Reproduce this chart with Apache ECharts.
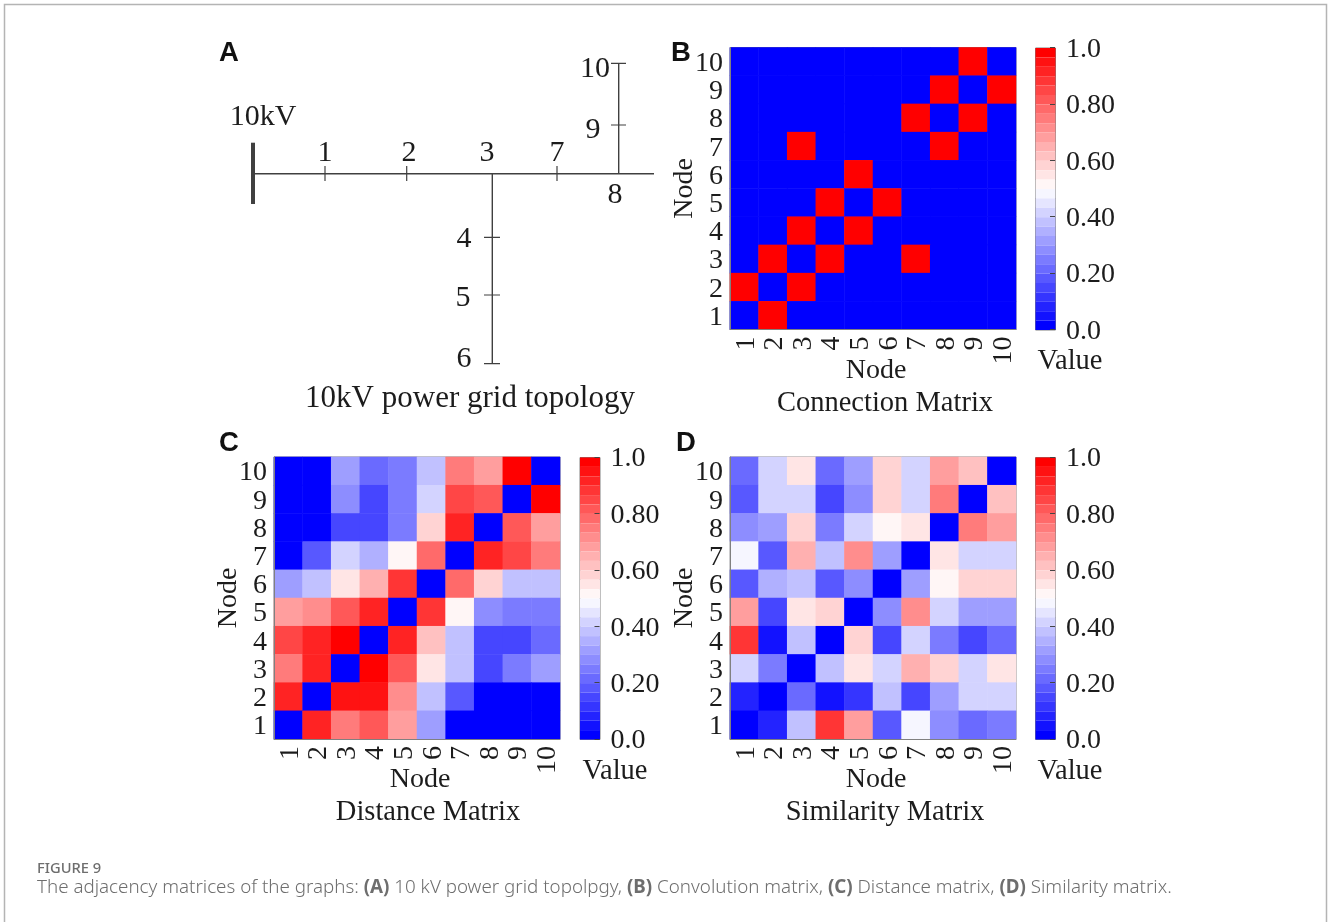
<!DOCTYPE html>
<html><head><meta charset="utf-8">
<style>html,body{margin:0;padding:0;background:#fff}#c{width:1328px;height:922px}</style>
<script src="https://cdn.jsdelivr.net/npm/echarts@6/dist/echarts.min.js"></script>
</head><body><div id="c"></div>
<script>
const nodes = ['1','2','3','4','5','6','7','8','9','10'];
const colorbarTicks = {'0.0':'0.0','0.2':'0.20','0.4':'0.40','0.6':'0.60','0.8':'0.80','1.0':'1.0'};

// rows listed top to bottom: node 10 first, node 1 last
const connectionMatrix = [
 [0,0,0,0,0,0,0,0,1,0],
 [0,0,0,0,0,0,0,1,0,1],
 [0,0,0,0,0,0,1,0,1,0],
 [0,0,1,0,0,0,0,1,0,0],
 [0,0,0,0,1,0,0,0,0,0],
 [0,0,0,1,0,1,0,0,0,0],
 [0,0,1,0,1,0,0,0,0,0],
 [0,1,0,1,0,0,1,0,0,0],
 [1,0,1,0,0,0,0,0,0,0],
 [0,1,0,0,0,0,0,0,0,0]
];
const distanceMatrix = [
 [0,0,.32,.20,.25,.38,.74,.68,1,0],
 [0,0,.27,.16,.24,.40,.84,.82,0,1],
 [0,0,.14,.14,.26,.59,.90,0,.80,.68],
 [0,.18,.40,.36,.52,.78,0,.90,.85,.74],
 [.32,.37,.56,.64,.87,0,.79,.59,.39,.37],
 [.67,.72,.80,.90,0,.87,.52,.27,.24,.24],
 [.84,.93,1,0,.90,.62,.37,.15,.15,.20],
 [.75,.93,0,1,.80,.56,.39,.15,.26,.31],
 [.93,0,.95,.95,.72,.37,.18,0,0,0],
 [0,.93,.74,.82,.67,.32,0,0,0,0]
];
const similarityMatrix = [
 [.23,.40,.56,.20,.33,.59,.40,.67,.63,0],
 [.18,.40,.43,.16,.29,.59,.40,.75,0,.63],
 [.28,.33,.59,.24,.40,.53,.55,0,.75,.67],
 [.47,.18,.66,.39,.71,.33,0,.56,.40,.40],
 [.17,.35,.39,.18,.27,0,.33,.53,.59,.59],
 [.68,.14,.56,.57,0,.27,.72,.40,.30,.33],
 [.87,.06,.37,0,.59,.15,.40,.24,.16,.20],
 [.40,.24,0,.37,.55,.40,.66,.59,.43,.56],
 [.08,0,.23,.06,.10,.37,.16,.33,.40,.40],
 [0,.08,.39,.88,.68,.17,.47,.28,.20,.24]
];

// topology in schematic units
const busbar = [[33,112.7],[33,174]];
const feederLines = [
 [[33,143.7],[434,143.7]],
 [[272.3,143.7],[272.3,333.7]],
 [[398.7,143.7],[398.7,33.3]]
];
const nodeTicks = [
 [[105,136],[105,151]],
 [[186.7,136],[186.7,151]],
 [[337,136],[337,151]],
 [[264,207.3],[280,207.3]],
 [[264,265],[280,265]],
 [[264,333.7],[280,333.7]],
 [[391,95],[406,95]],
 [[391,33.3],[406,33.3]]
];
const topologyLabels = [
 ['10kV',43,87],['1',105,123],['2',189,123],['3',267,123],['7',337,123],['8',395,165],
 ['9',373,100],['10',375,39],['4',244,209],['5',243,268],['6',244,329]
];

const SERIF = '"Liberation Serif","Times New Roman",serif';
const INK = '#1c1c1c', EDGE = '#808080', BANDS = 30;
const ramp = ['#0000ff','#ffffff','#ff0000'];

const panels = [
 {m:connectionMatrix, x:730, y:47.5, cx:1035},
 {m:distanceMatrix, x:274, y:457, cx:579.5},
 {m:similarityMatrix, x:730, y:457, cx:1035}
];
const W = 286, H = 282, CW = 20;

const grid = [{left:220,top:30,width:450,height:350,show:false}];
const xAxis = [{type:'value',gridIndex:0,min:0,max:450,show:false}];
const yAxis = [{type:'value',gridIndex:0,min:0,max:350,inverse:true,show:false}];
const series = [];
const visualMap = [];
const catAxis = {
 type:'category', data:nodes, z:5, nameMoveOverlap:false,
 axisLine:{lineStyle:{color:EDGE,width:1}},
 axisTick:{inside:true,alignWithLabel:true,length:5,lineStyle:{color:'#333',width:1}},
 splitLine:{show:false}
};
const lineSeries = (d,w)=>({type:'line',xAxisIndex:0,yAxisIndex:0,data:d,symbol:'none',silent:true,z:3,
 lineStyle:{color:'#404040',width:w}});
series.push(lineSeries(busbar,4));
feederLines.forEach(d=>series.push(lineSeries(d,1.4)));
nodeTicks.forEach(d=>series.push(lineSeries(d,1.2)));
series.push({type:'scatter',xAxisIndex:0,yAxisIndex:0,symbolSize:1,itemStyle:{color:'transparent',opacity:1},silent:true,
 data:topologyLabels.map(l=>({value:[l[1],l[2]],name:l[0]})),
 label:{show:true,position:'inside',formatter:p=>p.name,fontFamily:SERIF,fontSize:30,color:INK}});

panels.forEach((p,i)=>{
 const g = grid.length;
 grid.push({left:p.x,top:p.y,width:W,height:H,show:true,borderColor:EDGE,borderWidth:1,backgroundColor:'transparent'});
 xAxis.push({...catAxis,gridIndex:g,name:'Node',nameLocation:'middle',nameGap:27,
  nameTextStyle:{fontFamily:SERIF,fontSize:28,color:INK,padding:[0,0,0,6]},
  axisLabel:{interval:0,rotate:90,margin:7,verticalAlign:'top',lineHeight:4,fontFamily:SERIF,fontSize:28,color:INK}});
 yAxis.push({...catAxis,gridIndex:g,name:'Node',nameLocation:'middle',nameGap:31,
  nameTextStyle:{fontFamily:SERIF,fontSize:28,color:INK},
  axisLabel:{interval:0,margin:7,verticalAlign:'top',lineHeight:4,fontFamily:SERIF,fontSize:28,color:INK}});
 const cells = [];
 p.m.forEach((row,r)=>row.forEach((v,c)=>cells.push([c,nodes.length-1-r,v])));
 const si = series.length;
 series.push({type:'heatmap',xAxisIndex:g,yAxisIndex:g,data:cells,silent:true,z:2,progressive:0,itemStyle:{borderWidth:0}});
 visualMap.push({type:'piecewise',seriesIndex:si,min:0,max:1,splitNumber:BANDS,inRange:{color:ramp},
  left:p.cx,top:p.y,orient:'vertical',itemWidth:CW,itemHeight:H/BANDS,itemGap:0,showLabel:false,
  padding:0,borderColor:EDGE,borderWidth:1,hoverLink:false,selectedMode:false,itemSymbol:'rect',
  dimension:2});
 // colour bar tick axis
 const b = grid.length;
 grid.push({left:p.cx,top:p.y,width:CW,height:H,show:false});
 xAxis.push({type:'value',gridIndex:b,min:0,max:1,show:false});
 yAxis.push({type:'value',gridIndex:b,min:0,max:1,interval:0.2,position:'right',z:6,
  axisLine:{show:false,onZero:false},splitLine:{show:false},
  axisTick:{show:true,inside:true,length:5,lineStyle:{color:'#444',width:1}},
  axisLabel:{margin:11,verticalAlign:'top',lineHeight:4,fontFamily:SERIF,fontSize:28,color:INK,showMinLabel:true,showMaxLabel:true,
   formatter:v=>colorbarTicks[v.toFixed(1)]}});
});

const T = (text,x,y,o)=>({text,left:x,top:y+2,textAlign:o&&o.align||'center',textVerticalAlign:'middle',padding:0,
 textStyle:Object.assign({fontFamily:SERIF,fontSize:28.5,fontWeight:'normal',color:INK},o&&o.style)});
const letter = {align:'left',style:{fontFamily:'"Liberation Sans",Arial,sans-serif',fontWeight:'bold',fontSize:27.5,color:'#111'}};
const capText = '{b|(A)} 10 kV power grid topolpgy, {b|(B)} Convolution matrix, {b|(C)} Distance matrix, {b|(D)} Similarity matrix.';
const title = [
 T('A',219,51,letter),T('B',671,51,letter),T('C',219,441,letter),T('D',676,441,letter),
 T('10kV power grid topology',470,397,{style:{fontSize:31}}),
 T('Connection Matrix',885,402),T('Distance Matrix',428,811),T('Similarity Matrix',885,811),
 T('Value',1070,360),T('Value',615,770),T('Value',1070,770),
 {text:'FIGURE 9',left:37,top:869,textVerticalAlign:'middle',padding:0,
  textStyle:{fontFamily:'"Noto Sans"',fontSize:14.7,fontWeight:500,color:'#6e6e6e'}},
 {text:'The adjacency matrices of the graphs: '+capText,left:37,top:888,textVerticalAlign:'middle',padding:0,
  textStyle:{fontFamily:'"Noto Sans"',fontSize:18.77,fontWeight:300,color:'#6e6e6e',
   rich:{b:{fontFamily:'"Noto Sans"',fontSize:18.77,fontWeight:700,color:'#6e6e6e'}}}}
];

const chart = echarts.init(document.getElementById('c'),null,{renderer:'canvas'});
chart.setOption({
 animation:false,backgroundColor:'#fff',tooltip:{show:false},
 title,grid,xAxis,yAxis,series,visualMap,
 graphic:[{type:'polyline',silent:true,z:1,shape:{points:[[4.5,922],[4.5,4.5],[1326.5,4.5],[1326.5,922]]},
  style:{stroke:'#b4b4b4',lineWidth:1.5,fill:null}}]
});
</script></body></html>
